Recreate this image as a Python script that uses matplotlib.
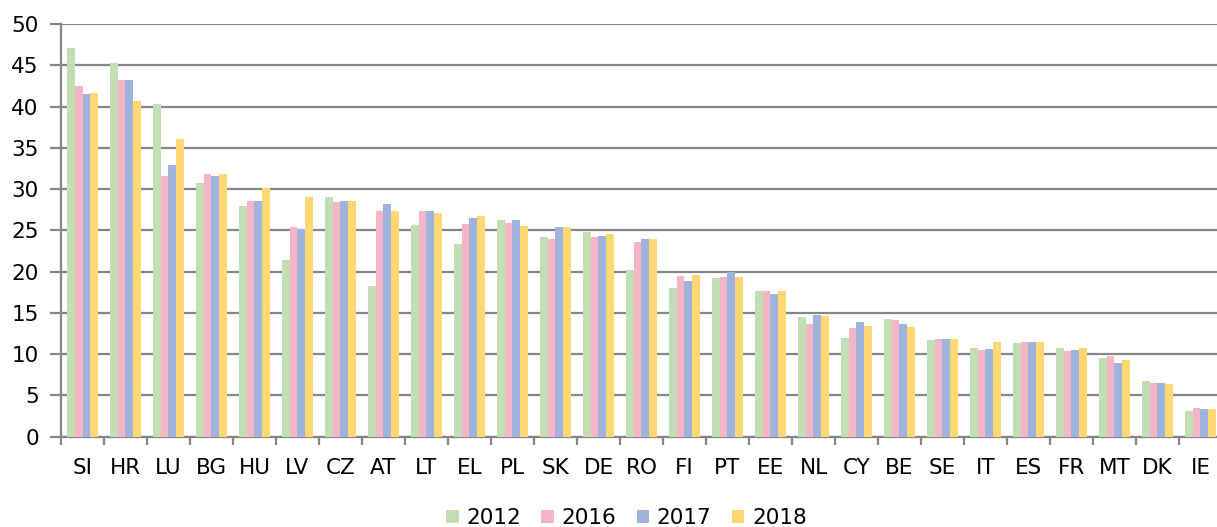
import numpy as np
import matplotlib
matplotlib.use("Agg")
import matplotlib.pyplot as plt
from matplotlib.ticker import FixedLocator, MultipleLocator

countries = ["SI", "HR", "LU", "BG", "HU", "LV", "CZ", "AT", "LT", "EL", "PL",
             "SK", "DE", "RO", "FI", "PT", "EE", "NL", "CY", "BE", "SE", "IT",
             "ES", "FR", "MT", "DK", "IE"]

years = ["2012", "2016", "2017", "2018"]

v2012 = [47.1, 45.3, 40.3, 30.7, 27.9, 21.4, 29.1, 18.3, 25.6, 23.3, 26.2,
         24.2, 24.8, 20.2, 18.0, 19.2, 17.7, 14.5, 11.9, 14.3, 11.7, 10.7,
         11.3, 10.7, 9.5, 6.7, 3.1]
v2016 = [42.5, 43.2, 31.6, 31.8, 28.6, 25.4, 28.4, 27.3, 27.3, 25.8, 25.9,
         24.0, 24.2, 23.6, 19.5, 19.3, 17.6, 13.7, 13.2, 14.1, 11.8, 10.5,
         11.5, 10.4, 9.8, 6.5, 3.5]
v2017 = [41.5, 43.2, 32.9, 31.6, 28.6, 25.2, 28.5, 28.2, 27.3, 26.5, 26.2,
         25.4, 24.3, 23.9, 18.9, 20.0, 17.3, 14.7, 13.9, 13.7, 11.8, 10.6,
         11.5, 10.5, 8.9, 6.5, 3.4]
v2018 = [41.6, 40.7, 36.1, 31.8, 30.1, 29.0, 28.5, 27.3, 27.1, 26.7, 25.5,
         25.4, 24.5, 24.0, 19.6, 19.3, 17.6, 14.6, 13.4, 13.3, 11.8, 11.5,
         11.5, 10.8, 9.3, 6.4, 3.3]

colors = ["#c3deb4", "#f4b6c6", "#a0b3dd", "#ffd874"]
grid_color = "#868686"
fs = 15.5

fig = plt.figure(figsize=(12.17, 5.27), dpi=100)
ax = fig.add_axes([61 / 1217, 0.1713, 1161 / 1217, 0.7832])

x = np.arange(len(countries))
bar_w = 0.182
series = [v2012, v2016, v2017, v2018]
for i, (vals, col, yr) in enumerate(zip(series, colors, years)):
    offset = (i - 1.5) * bar_w
    ax.bar(x + offset, vals, width=bar_w, color=col, label=yr,
           linewidth=0, zorder=3)

ax.set_xlim(-0.5, len(countries) - 0.5)
ax.set_ylim(0, 50)

# Horizontal gridlines
ax.yaxis.set_major_locator(MultipleLocator(5))
ax.grid(axis="y", color=grid_color, linewidth=1.6, zorder=0)
ax.set_axisbelow(True)

for side in ["top", "right"]:
    ax.spines[side].set_visible(False)
for side in ["left", "bottom"]:
    ax.spines[side].set_color(grid_color)
    ax.spines[side].set_linewidth(1.6)

# Category labels centred, tick marks between groups
ax.set_xticks(x)
ax.set_xticklabels(countries)
ax.xaxis.set_minor_locator(FixedLocator(np.arange(-0.5, len(countries), 1)))
ax.tick_params(axis="x", which="major", length=0, pad=15, labelsize=fs)
ax.tick_params(axis="x", which="minor", length=6, width=1.6, color=grid_color,
               direction="out")
ax.tick_params(axis="y", length=8, width=1.6, color=grid_color, pad=8,
               labelsize=fs)

ax.legend(loc="upper center", bbox_to_anchor=(0.487, -0.126), ncol=4,
          frameon=False, fontsize=fs, handlelength=0.58, handleheight=0.58,
          handletextpad=0.35, columnspacing=0.95)

fig.savefig("out.png", dpi=100)
